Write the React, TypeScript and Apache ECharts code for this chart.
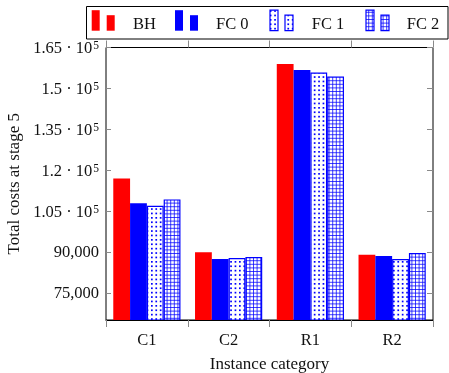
import React, { useEffect, useRef } from "react";
import * as echarts from "echarts";

const categories = ["C1", "C2", "R1", "R2"];
const seriesNames = ["BH", "FC 0", "FC 1", "FC 2"];
const bhValues = [116950, 89900, 158900, 88900];
const fc0Values = [107800, 87400, 156700, 88500];
const fc1Values = [106950, 87750, 155850, 87400];
const fc2Values = [109250, 88100, 154400, 89600];
const yTickValues = [75000, 90000, 105000, 120000, 135000, 150000, 165000];
const yTickLabels = [
  "75,000",
  "90,000",
  "{m|1.05 · 10}{e|5}",
  "{m|1.2 · 10}{e|5}",
  "{m|1.35 · 10}{e|5}",
  "{m|1.5 · 10}{e|5}",
  "{m|1.65 · 10}{e|5}",
];
const xAxisTitle = "Instance category";
const yAxisTitle = "Total costs at stage 5";

const FONT = '"Liberation Serif", "Times New Roman", serif';
const RED = "#ff0000";
const BLUE = "#0000ff";

function makeDots(): HTMLCanvasElement {
  const c = document.createElement("canvas");
  const n = 5;
  const step = 4.4;
  const size = Math.round(n * step);
  c.width = size;
  c.height = size;
  const g = c.getContext("2d")!;
  g.fillStyle = "#ffffff";
  g.fillRect(0, 0, size, size);
  g.fillStyle = BLUE;
  for (let i = 0; i < n; i++) {
    for (let j = 0; j < n; j++) {
      g.fillRect(i * step + 1.4, j * step + 1.4, 1.7, 1.7);
    }
  }
  return c;
}

function makeGrid(): HTMLCanvasElement {
  const c = document.createElement("canvas");
  const n = 5;
  const step = 3.6;
  const size = Math.round(n * step);
  c.width = size;
  c.height = size;
  const g = c.getContext("2d")!;
  g.fillStyle = "#ffffff";
  g.fillRect(0, 0, size, size);
  g.fillStyle = "rgba(0,0,255,0.75)";
  for (let i = 0; i < n; i++) {
    g.fillRect(i * step + 1, 0, 1, size);
    g.fillRect(0, i * step + 1, size, 1);
  }
  return c;
}

export default function App() {
  const ref = useRef<HTMLDivElement>(null);

  useEffect(() => {
    if (!ref.current) return;
    const chart = echarts.init(ref.current, null, { renderer: "svg" });
    const dotsCanvas = makeDots();
    const gridCanvas = makeGrid();
    const dotsPattern: any = {
      image: dotsCanvas,
      repeat: "repeat",
      imageWidth: dotsCanvas.width,
      imageHeight: dotsCanvas.height,
    };
    const gridPattern: any = {
      image: gridCanvas,
      repeat: "repeat",
      imageWidth: gridCanvas.width,
      imageHeight: gridCanvas.height,
    };

    const allValues = [bhValues, fc0Values, fc1Values, fc2Values];
    const styles: any[] = [
      { color: RED, borderWidth: 0 },
      { color: BLUE, borderWidth: 0 },
      { color: dotsPattern, borderColor: BLUE, borderWidth: 1.2 },
      { color: gridPattern, borderColor: BLUE, borderWidth: 1.2 },
    ];

    const legendX = [91.7, 175, 270, 366];
    const legendTextX = [133, 216, 311.7, 406.7];
    const legendFills: any[] = [RED, BLUE, dotsPattern, gridPattern];
    const legendElems: any[] = [
      {
        type: "rect",
        shape: { x: 86.5, y: 6.5, width: 361.5, height: 32.5 },
        style: { fill: "#fff", stroke: "#000", lineWidth: 1 },
        z: 100,
      },
    ];
    seriesNames.forEach((name, i) => {
      const stroked = i >= 2;
      legendElems.push({
        type: "rect",
        shape: { x: legendX[i], y: 10.2, width: 8, height: 20.5 },
        style: {
          fill: legendFills[i],
          stroke: stroked ? BLUE : null,
          lineWidth: stroked ? 1.2 : 0,
        },
        z: 101,
      });
      legendElems.push({
        type: "rect",
        shape: { x: legendX[i] + 15, y: 15.2, width: 8, height: 15.5 },
        style: {
          fill: legendFills[i],
          stroke: stroked ? BLUE : null,
          lineWidth: stroked ? 1.2 : 0,
        },
        z: 101,
      });
      legendElems.push({
        type: "text",
        x: legendTextX[i],
        y: 23.5,
        style: {
          text: name,
          font: `16.5px ${FONT}`,
          fill: "#111",
          verticalAlign: "middle",
          align: "left",
        },
        z: 101,
      });
    });

    const labelMap: Record<number, string> = {};
    yTickValues.forEach((v, i) => (labelMap[v] = yTickLabels[i]));

    const option: any = {
      animation: false,
      grid: {
        left: 106,
        top: 47.5,
        width: 327,
        height: 272.5,
        show: true,
        borderColor: "#000",
        borderWidth: 1,
        backgroundColor: "transparent",
        containLabel: false,
        outerBoundsMode: "none",
      },
      xAxis: [
        {
          type: "category",
          data: categories,
          position: "bottom",
          z: 10,
          axisLine: { show: true, lineStyle: { color: "#000", width: 1 } },
          axisTick: {
            show: true,
            inside: false,
            length: 7,
            lineStyle: { color: "#8a8a8a", width: 1 },
          },
          axisLabel: {
            margin: 11,
            fontFamily: FONT,
            fontSize: 16.5,
            color: "#111",
          },
          name: xAxisTitle,
          nameLocation: "middle",
          nameGap: 35,
          nameTextStyle: { fontFamily: FONT, fontSize: 17, color: "#111" },
        },
        {
          type: "category",
          data: categories,
          position: "top",
          axisLine: { show: false },
          axisTick: {
            show: true,
            inside: false,
            length: 7,
            lineStyle: { color: "#8a8a8a", width: 1 },
          },
          axisLabel: { show: false },
        },
      ],
      yAxis: [
        {
          type: "value",
          min: 65000,
          max: 165000,
          position: "left",
          axisLine: { show: false },
          splitLine: { show: false },
          axisTick: {
            show: true,
            inside: true,
            length: 5,
            customValues: yTickValues,
            lineStyle: { color: "#8a8a8a", width: 1 },
          },
          axisLabel: {
            customValues: yTickValues,
            margin: 7,
            align: "right",
            color: "#111",
            fontFamily: FONT,
            fontSize: 16.5,
            formatter: (v: number) => labelMap[v] ?? "",
            rich: {
              m: { fontFamily: FONT, fontSize: 16.5, color: "#111" },
              e: {
                fontFamily: FONT,
                fontSize: 11.5,
                color: "#111",
                verticalAlign: "top",
                padding: [0, 0, 0, 1],
              },
            },
          },
          name: yAxisTitle,
          nameLocation: "middle",
          nameGap: 84,
          nameRotate: 90,
          nameTextStyle: { fontFamily: FONT, fontSize: 17, color: "#111" },
        },
        {
          type: "value",
          min: 65000,
          max: 165000,
          position: "right",
          axisLine: { show: false },
          splitLine: { show: false },
          axisTick: {
            show: true,
            inside: true,
            length: 6,
            customValues: yTickValues,
            lineStyle: { color: "#8a8a8a", width: 1 },
          },
          axisLabel: { show: false },
        },
      ],
      series: seriesNames.map((name, i) => ({
        name,
        type: "bar",
        data: allValues[i],
        barWidth: 16.8,
        barGap: "0%",
        itemStyle: styles[i],
        z: 2,
      })),
      graphic: legendElems,
    };
    chart.setOption(option);
    return () => chart.dispose();
  }, []);

  return (
    <div
      ref={ref}
      style={{ position: "fixed", left: 0, top: 0, width: 449, height: 373 }}
    />
  );
}
